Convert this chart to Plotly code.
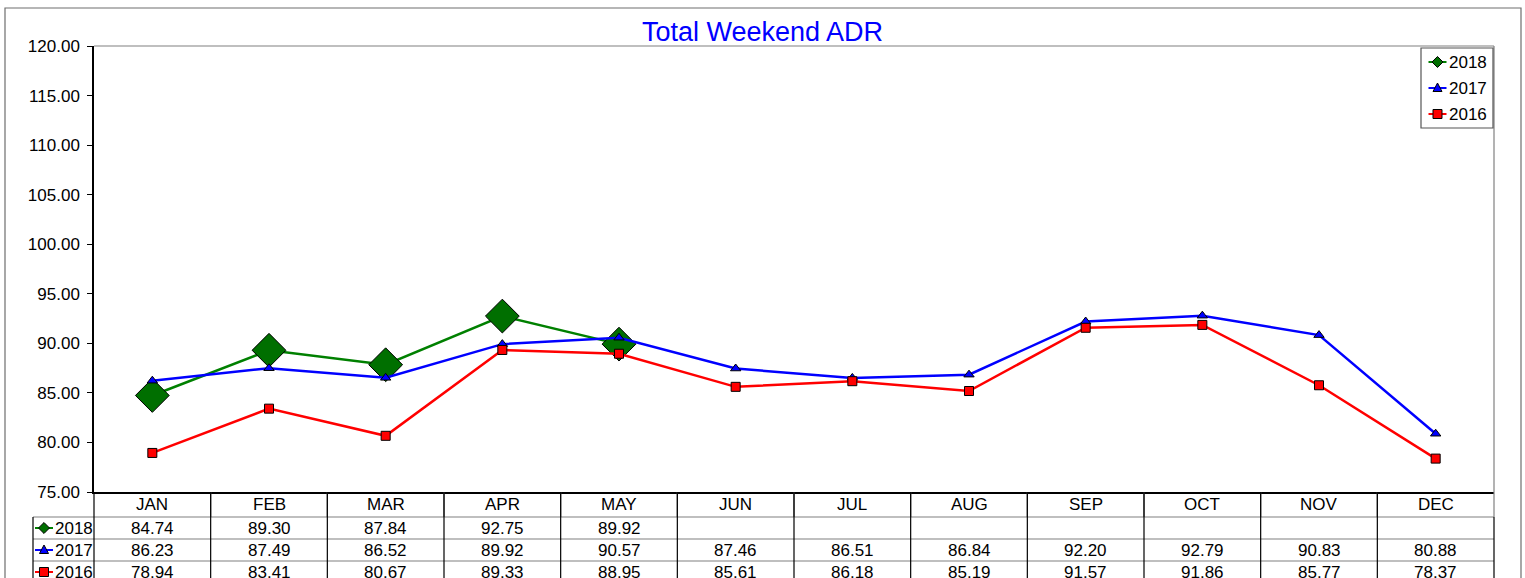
import plotly.graph_objects as go

months = ["JAN", "FEB", "MAR", "APR", "MAY", "JUN", "JUL", "AUG", "SEP", "OCT", "NOV", "DEC"]
adr_2018 = [84.74, 89.30, 87.84, 92.75, 89.92, None, None, None, None, None, None, None]
adr_2017 = [86.23, 87.49, 86.52, 89.92, 90.57, 87.46, 86.51, 86.84, 92.20, 92.79, 90.83, 80.88]
adr_2016 = [78.94, 83.41, 80.67, 89.33, 88.95, 85.61, 86.18, 85.19, 91.57, 91.86, 85.77, 78.37]
years = ["2018", "2017", "2016"]
y_ticks = [75, 80, 85, 90, 95, 100, 105, 110, 115, 120]

W, H = 1525, 578
L, R, T, B = 94, 1494, 46, 492
FONT = "Liberation Sans, Arial, sans-serif"


def px(x):
    return (x - L) / (R - L)


def py(y):
    return (B - y) / (B - T)


styles = {
    "2018": dict(color="#008000", fill="#006f00", symbol="diamond", size=26),
    "2017": dict(color="#0000ff", fill="#0000ff", symbol="triangle-up", size=9),
    "2016": dict(color="#ff0000", fill="#ff0000", symbol="square", size=9),
}
series = {"2018": adr_2018, "2017": adr_2017, "2016": adr_2016}

fig = go.Figure()
for yr in years:
    s = styles[yr]
    fig.add_trace(go.Scatter(
        x=list(range(len(months))), y=series[yr], name=yr,
        mode="lines+markers", connectgaps=False,
        line=dict(color=s["color"], width=2.5),
        marker=dict(symbol=s["symbol"], size=s["size"], color=s["fill"],
                    line=dict(color="#000000", width=1)),
        showlegend=False, cliponaxis=False,
    ))

shapes = []
annotations = []


def text(x, y, s, anchor="center"):
    annotations.append(dict(x=px(x), y=py(y), xref="paper", yref="paper", text=s,
                            xanchor=anchor, yanchor="middle", showarrow=False,
                            font=dict(size=17, color="#000000", family=FONT)))


def hline(x0, x1, y, color, width=1.2):
    shapes.append(dict(type="line", xref="paper", yref="paper",
                       x0=px(x0), x1=px(x1), y0=py(y), y1=py(y),
                       line=dict(color=color, width=width)))


def vline(x, y0, y1, color, width=1.2):
    shapes.append(dict(type="line", xref="paper", yref="paper",
                       x0=px(x), x1=px(x), y0=py(y0), y1=py(y1),
                       line=dict(color=color, width=width)))


def key(yr, cx, cy):
    """Small line-and-marker legend key centred at pixel (cx, cy)."""
    s = styles[yr]
    hline(cx - 9, cx + 9, cy, s["color"], 2)
    if s["symbol"] == "diamond":
        pts = [(cx, cy - 5.5), (cx + 5.5, cy), (cx, cy + 5.5), (cx - 5.5, cy)]
    elif s["symbol"] == "triangle-up":
        pts = [(cx, cy - 5), (cx + 4.5, cy + 3.5), (cx - 4.5, cy + 3.5)]
    else:
        pts = [(cx - 4.5, cy - 4.5), (cx + 4.5, cy - 4.5), (cx + 4.5, cy + 4.5), (cx - 4.5, cy + 4.5)]
    path = "M " + " L ".join(f"{px(a):.6f},{py(b):.6f}" for a, b in pts) + " Z"
    shapes.append(dict(type="path", xref="paper", yref="paper", path=path,
                       fillcolor=s["fill"], line=dict(color="#000000", width=1)))


# outer frame and plot-area top/right edges
shapes.append(dict(type="rect", xref="paper", yref="paper",
                   x0=px(5), x1=px(1521), y0=py(590), y1=py(8),
                   line=dict(color="#6e6e6e", width=1.2)))
hline(L, R, T, "#808080")
vline(R, T, 517, "#808080")

# data table below the axis
row_lines = [517, 539, 561]
for yl in row_lines:
    hline(33, R, yl, "#808080")
col_w = (R - L) / len(months)
for i in range(len(months) + 1):
    xv = L + i * col_w
    if 0 < i < len(months):
        vline(xv, B, 517, "#555555")
    vline(xv, 517 if i == len(months) else B, 590, "#000000")
vline(33, 517, 590, "#000000")

row_centres = [528, 550, 572]
for i, m in enumerate(months):
    cx = L + (i + 0.5) * col_w
    text(cx, 504, m)
    for yr, rc in zip(years, row_centres):
        v = series[yr][i]
        if v is not None:
            text(cx, rc, f"{v:.2f}")

for yr, rc in zip(years, row_centres):
    key(yr, 44, rc)
    text(53, rc, yr, "left")

# legend box
shapes.append(dict(type="rect", xref="paper", yref="paper",
                   x0=px(1421), x1=px(1493), y0=py(128), y1=py(48),
                   line=dict(color="#555555", width=1.2), fillcolor="#ffffff"))
for yr, ly in zip(years, [62, 88, 114]):
    key(yr, 1437.5, ly)
    text(1447, ly, yr, "left")

fig.update_layout(
    width=W, height=H,
    margin=dict(l=L, r=W - R, t=T, b=H - B, pad=0),
    paper_bgcolor="#ffffff", plot_bgcolor="#ffffff",
    title=dict(text="Total Weekend ADR", x=0.5, xanchor="center", xref="container",
               y=1 - 32 / H, yanchor="middle",
               font=dict(size=27, color="#0000ff", family=FONT)),
    xaxis=dict(range=[-0.5, len(months) - 0.5], showticklabels=False, ticks="",
               showgrid=False, zeroline=False, showline=True, linecolor="#000000",
               linewidth=1.5, fixedrange=True),
    yaxis=dict(range=[y_ticks[0], y_ticks[-1]], tickvals=y_ticks, tickformat=".2f",
               ticks="outside", ticklen=5, tickcolor="#000000", showgrid=False,
               zeroline=False, showline=True, linecolor="#000000", linewidth=1.5,
               tickfont=dict(size=17, color="#000000", family=FONT), ticklabelstandoff=4),
    shapes=shapes, annotations=annotations,
    showlegend=False,
)

fig.write_html("out.html")
